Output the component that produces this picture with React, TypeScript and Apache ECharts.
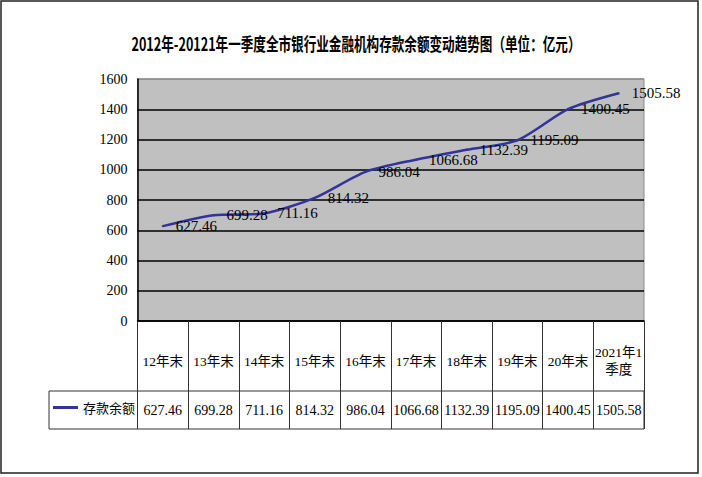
import React, { useEffect, useRef } from "react";
import * as echarts from "echarts";

const categories = ["12年末", "13年末", "14年末", "15年末", "16年末", "17年末", "18年末", "19年末", "20年末", "2021年1\n季度"];
const deposits = [627.46, 699.28, 711.16, 814.32, 986.04, 1066.68, 1132.39, 1195.09, 1400.45, 1505.58];
const seriesName = "存款余额";
const titleText = "2012年-20121年一季度全市银行业金融机构存款余额变动趋势图（单位：亿元）";
const yMin = 0;
const yMax = 1600;
const yInterval = 200;

const FONT = "'Liberation Serif', 'Noto Sans CJK SC', serif";
const CJK = "'Noto Sans CJK SC', sans-serif";

export default function App() {
  const ref = useRef<HTMLDivElement>(null);
  useEffect(() => {
    document.body.style.margin = "0";
    const chart = echarts.init(ref.current!, null, { renderer: "svg" });
    const valueLabels = deposits.map((v) => v.toFixed(2));
    const nLines = (yMax - yMin) / yInterval + 1;
    const splitColors = Array.from({ length: nLines }, (_, i) => (i === nLines - 1 ? "#8c8c8c" : "#000000"));
    chart.setOption({
      animation: false,
      backgroundColor: "#ffffff",
      grid: {
        left: 137.5,
        top: 79,
        right: 58,
        bottom: 156,
        show: true,
        backgroundColor: "#C0C0C0",
        borderColor: "#8c8c8c",
        borderWidth: 1,
      },
      legend: {
        left: 53,
        top: 401,
        padding: 0,
        itemWidth: 25,
        itemHeight: 3,
        icon: "rect",
        data: [seriesName],
        textStyle: { fontSize: 13, color: "#000", fontFamily: CJK },
      },
      xAxis: [
        {
          type: "category",
          data: categories,
          boundaryGap: true,
          axisLine: { show: true, lineStyle: { color: "#000", width: 1.5 } },
          axisTick: { show: true, length: 108, lineStyle: { color: "#333", width: 1 } },
          axisLabel: {
            interval: 0,
            margin: 40,
            verticalAlign: "middle",
            color: "#000",
            fontSize: 13.5,
            lineHeight: 17,
            fontFamily: FONT,
          },
          splitLine: { show: false },
        },
        {
          type: "category",
          data: valueLabels,
          position: "bottom",
          boundaryGap: true,
          axisLine: { show: false },
          axisTick: { show: false },
          axisLabel: {
            interval: 0,
            margin: 89,
            verticalAlign: "middle",
            color: "#000",
            fontSize: 14,
            fontFamily: FONT,
          },
          splitLine: { show: false },
        },
      ],
      yAxis: {
        type: "value",
        min: yMin,
        max: yMax,
        interval: yInterval,
        axisLine: { show: true, lineStyle: { color: "#000", width: 1.5 } },
        axisTick: { show: false },
        axisLabel: {
          margin: 10,
          color: "#000",
          fontSize: 14,
          fontFamily: FONT,
          formatter: (v: number) => String(v),
        },
        splitLine: { show: true, lineStyle: { color: splitColors, width: 1.5 } },
      },
      series: [
        {
          type: "line",
          name: seriesName,
          xAxisIndex: 0,
          data: deposits,
          smooth: 0.25,
          symbol: "circle",
          symbolSize: 2,
          lineStyle: { color: "#333399", width: 2.5 },
          itemStyle: { color: "#333399" },
          label: {
            show: true,
            position: "right",
            distance: 12,
            color: "#000",
            fontSize: 15,
            fontFamily: FONT,
          },
          z: 3,
        },
      ],
      graphic: [
        {
          type: "rect",
          shape: { x: 1, y: 1, width: 697, height: 472 },
          style: { fill: "none", stroke: "#222", lineWidth: 1.5 },
          silent: true,
        },
        {
          type: "rect",
          shape: { x: 49, y: 391, width: 595, height: 38 },
          style: { fill: "none", stroke: "#333", lineWidth: 1 },
          silent: true,
        },
        {
          type: "text",
          x: 356,
          y: 43,
          scaleX: 0.7,
          style: {
            text: titleText,
            fontSize: 18,
            fontWeight: "bold",
            fontFamily: CJK,
            fill: "#000",
            align: "center",
            verticalAlign: "middle",
          },
        },
      ],
    });
    return () => chart.dispose();
  }, []);
  return <div ref={ref} style={{ width: 702, height: 477 }} />;
}
